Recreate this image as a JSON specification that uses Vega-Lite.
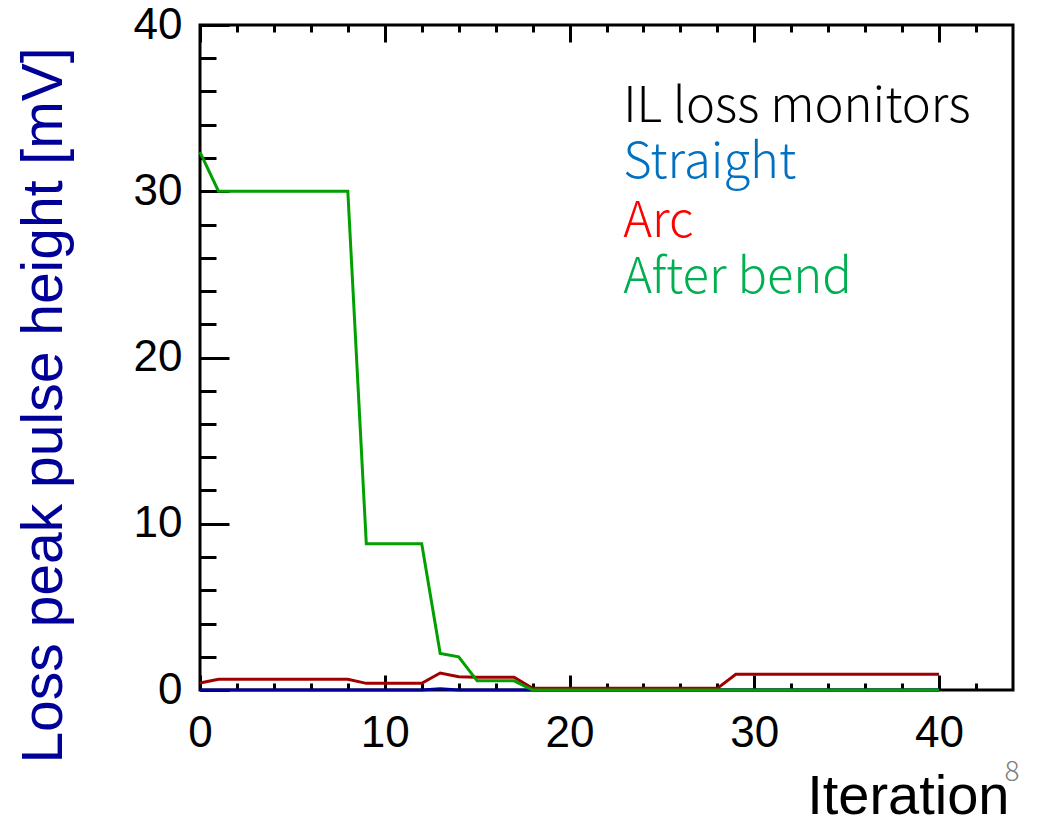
{
  "$schema": "https://vega.github.io/schema/vega-lite/v6.json",
  "width": 813,
  "height": 665,
  "autosize": "none",
  "padding": {"left": 200, "top": 25, "right": 25, "bottom": 128},
  "background": "white",
  "config": {
    "view": {"stroke": "black", "strokeWidth": 3},
    "axis": {"domain": false, "grid": false, "tickColor": "black", "tickWidth": 3, "labelFont": "Liberation Sans", "labelFontSize": 44, "labelColor": "black", "labelFlush": false, "labelOverlap": false}
  },
  "datasets": {
    "loss": [
      {"it": 0, "straight": 0, "arc": 0.42, "bend": 32.35},
      {"it": 1, "straight": 0, "arc": 0.65, "bend": 30},
      {"it": 2, "straight": 0, "arc": 0.65, "bend": 30},
      {"it": 3, "straight": 0, "arc": 0.65, "bend": 30},
      {"it": 4, "straight": 0, "arc": 0.65, "bend": 30},
      {"it": 5, "straight": 0, "arc": 0.65, "bend": 30},
      {"it": 6, "straight": 0, "arc": 0.65, "bend": 30},
      {"it": 7, "straight": 0, "arc": 0.65, "bend": 30},
      {"it": 8, "straight": 0, "arc": 0.65, "bend": 30},
      {"it": 9, "straight": 0, "arc": 0.4, "bend": 8.8},
      {"it": 10, "straight": 0, "arc": 0.4, "bend": 8.8},
      {"it": 11, "straight": 0, "arc": 0.4, "bend": 8.8},
      {"it": 12, "straight": 0, "arc": 0.4, "bend": 8.8},
      {"it": 13, "straight": 0.08, "arc": 1.02, "bend": 2.2},
      {"it": 14, "straight": 0, "arc": 0.8, "bend": 2.0},
      {"it": 15, "straight": 0, "arc": 0.77, "bend": 0.55},
      {"it": 16, "straight": 0, "arc": 0.77, "bend": 0.55},
      {"it": 17, "straight": 0, "arc": 0.77, "bend": 0.55},
      {"it": 18, "straight": 0, "arc": 0.1, "bend": 0},
      {"it": 19, "straight": 0, "arc": 0.1, "bend": 0},
      {"it": 20, "straight": 0, "arc": 0.1, "bend": 0},
      {"it": 21, "straight": 0, "arc": 0.1, "bend": 0},
      {"it": 22, "straight": 0, "arc": 0.1, "bend": 0},
      {"it": 23, "straight": 0, "arc": 0.1, "bend": 0},
      {"it": 24, "straight": 0, "arc": 0.1, "bend": 0},
      {"it": 25, "straight": 0, "arc": 0.1, "bend": 0},
      {"it": 26, "straight": 0, "arc": 0.1, "bend": 0},
      {"it": 27, "straight": 0, "arc": 0.1, "bend": 0},
      {"it": 28, "straight": 0, "arc": 0.1, "bend": 0},
      {"it": 29, "straight": 0, "arc": 0.95, "bend": 0},
      {"it": 30, "straight": 0, "arc": 0.95, "bend": 0},
      {"it": 31, "straight": 0, "arc": 0.95, "bend": 0},
      {"it": 32, "straight": 0, "arc": 0.95, "bend": 0},
      {"it": 33, "straight": 0, "arc": 0.95, "bend": 0},
      {"it": 34, "straight": 0, "arc": 0.95, "bend": 0},
      {"it": 35, "straight": 0, "arc": 0.95, "bend": 0},
      {"it": 36, "straight": 0, "arc": 0.95, "bend": 0},
      {"it": 37, "straight": 0, "arc": 0.95, "bend": 0},
      {"it": 38, "straight": 0, "arc": 0.95, "bend": 0},
      {"it": 39, "straight": 0, "arc": 0.95, "bend": 0},
      {"it": 40, "straight": 0, "arc": 0.95, "bend": 0}
    ],
    "notes": [
      {"label": "IL loss monitors", "ly": 34.17},
      {"label": "Straight", "ly": 30.8},
      {"label": "Arc", "ly": 27.25},
      {"label": "After bend", "ly": 23.88}
    ],
    "page": [{"page": "8"}]
  },
  "layer": [
    {
      "data": {"name": "loss"},
      "mark": {"type": "line", "color": "#000099", "strokeWidth": 3},
      "encoding": {
        "x": {"field": "it", "type": "quantitative", "scale": {"domain": [0, 44], "nice": false, "zero": false},
          "axis": {"orient": "bottom", "values": [0, 10, 20, 30, 40], "tickSize": -15, "labelPadding": 36, "labelBaseline": "top",
            "title": "Iteration", "titleFont": "Liberation Sans", "titleFontSize": 56, "titleFontWeight": "normal", "titleColor": "black",
            "titleAlign": "right", "titleBaseline": "alphabetic", "titleX": 809, "titleY": 123}},
        "y": {"field": "straight", "type": "quantitative", "scale": {"domain": [0, 40], "nice": false},
          "axis": {"orient": "left", "values": [0, 10, 20, 30, 40], "tickSize": -29, "labelPadding": 47, "labelBaseline": "middle",
            "title": "Loss peak pulse height [mV]", "titleFont": "Liberation Sans", "titleFontSize": 57, "titleFontWeight": "normal", "titleColor": "#000099",
            "titleAngle": -90, "titleAlign": "right", "titleBaseline": "alphabetic", "titleX": -139, "titleY": 22}}
      }
    },
    {
      "data": {"name": "loss"},
      "mark": {"type": "line", "color": "#a00000", "strokeWidth": 3},
      "encoding": {
        "x": {"field": "it", "type": "quantitative",
          "axis": {"orient": "bottom", "values": [2, 4, 6, 8, 12, 14, 16, 18, 22, 24, 26, 28, 32, 34, 36, 38, 42], "tickSize": -7, "labels": false, "title": null}},
        "y": {"field": "arc", "type": "quantitative",
          "axis": {"orient": "left", "values": [2, 4, 6, 8, 12, 14, 16, 18, 22, 24, 26, 28, 32, 34, 36, 38], "tickSize": -16, "labels": false, "title": null}}
      }
    },
    {
      "data": {"name": "loss"},
      "mark": {"type": "line", "color": "#00a000", "strokeWidth": 3},
      "encoding": {
        "x": {"field": "it", "type": "quantitative",
          "axis": {"orient": "top", "values": [0, 10, 20, 30, 40], "tickSize": -17, "labels": false, "title": null}},
        "y": {"field": "bend", "type": "quantitative", "axis": null}
      }
    },
    {
      "data": {"name": "notes"},
      "mark": {"type": "text", "font": "Noto Sans CJK JP", "fontSize": 49, "fontWeight": 300, "align": "left", "baseline": "alphabetic"},
      "encoding": {
        "x": {"datum": 22.9, "type": "quantitative",
          "axis": {"orient": "top", "values": [2, 4, 6, 8, 12, 14, 16, 18, 22, 24, 26, 28, 32, 34, 36, 38, 42], "tickSize": -7, "labels": false, "title": null}},
        "y": {"field": "ly", "type": "quantitative", "axis": null},
        "text": {"field": "label"},
        "color": {"field": "label", "type": "nominal", "legend": null,
          "scale": {"domain": ["IL loss monitors", "Straight", "Arc", "After bend"], "range": ["#000000", "#0070c0", "#ff0000", "#00b050"]}}
      }
    },
    {
      "data": {"name": "page"},
      "mark": {"type": "text", "font": "Noto Sans CJK JP", "fontSize": 28, "fontWeight": 300, "color": "#808080", "align": "center", "baseline": "middle"},
      "encoding": {
        "x": {"datum": 43.95, "type": "quantitative", "axis": null},
        "y": {"datum": -5.0, "type": "quantitative", "axis": null},
        "text": {"field": "page"}
      }
    }
  ],
  "resolve": {"axis": {"x": "independent", "y": "independent"}}
}
